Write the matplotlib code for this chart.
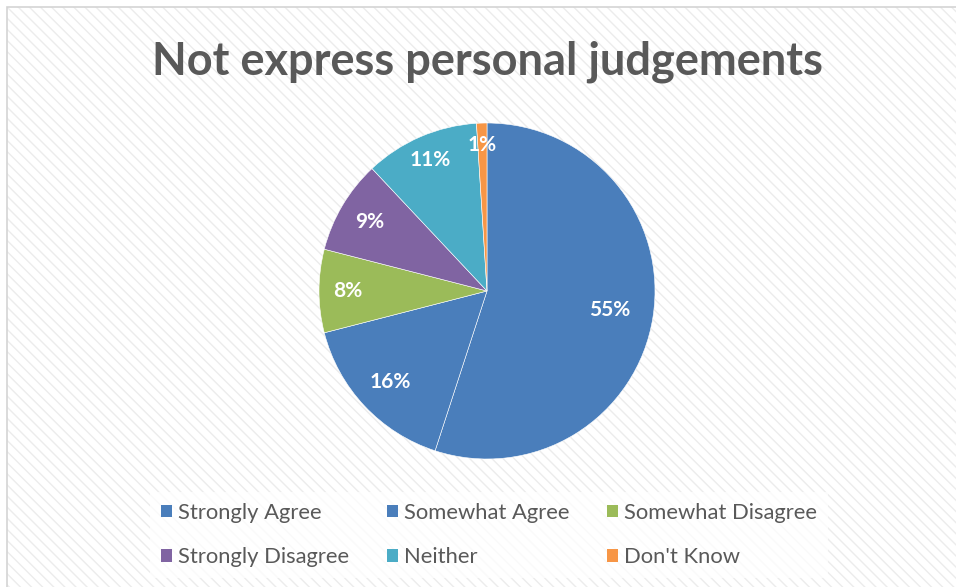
import matplotlib
matplotlib.use('Agg')
import matplotlib.pyplot as plt
import matplotlib.patches as mpatches

# data
labels = ['Strongly Agree', 'Somewhat Agree', 'Somewhat Disagree',
          'Strongly Disagree', 'Neither', "Don't Know"]
shares = [55, 16, 8, 9, 11, 1]
colors = ['#4a7ebb', '#4a7ebb', '#9bbb59', '#8064a2', '#4bacc6', '#f79646']
# label distance from centre (fraction of radius), like Excel's best fit
label_dist = [0.74, 0.79, 0.83, 0.81, 0.85, 0.87]

plt.rcParams['font.family'] = ['Lato', 'DejaVu Sans']
plt.rcParams['hatch.linewidth'] = 1.0

W, H = 956, 587
fig = plt.figure(figsize=(W / 100, H / 100), dpi=100)
fig.patch.set_facecolor('white')

# hatched chart background with light border
bg = mpatches.Rectangle((7 / W, -0.02), 1.05, 1 - 7 / H + 0.02, transform=fig.transFigure,
                        facecolor='white', edgecolor='#ececec', hatch='\\\\\\',
                        linewidth=0, zorder=-2)
fig.patches.append(bg)
border = mpatches.Rectangle((7 / W, -0.02), 1.05, 1 - 7 / H + 0.02, transform=fig.transFigure,
                            facecolor='none', edgecolor='#d4d4d4', linewidth=1.2, zorder=-1)
fig.patches.append(border)

# pie: centre (487, 291) px, radius ~168 px
r = 168
ax = fig.add_axes([(487 - r) / W, (H - 291 - r) / H, 2 * r / W, 2 * r / H])
ax.set_facecolor('none')
wedges, texts, autotexts = ax.pie(
    shares, colors=colors, startangle=90, counterclock=False,
    autopct='%d%%', pctdistance=1.0,
    wedgeprops=dict(edgecolor='white', linewidth=0.4),
    textprops=dict(color='white', fontsize=15, fontweight='bold'))
for t, d in zip(autotexts, label_dist):
    x, y = t.get_position()
    t.set_position((x * d, y * d))
ax.set_xlim(-1, 1)
ax.set_ylim(-1, 1)
ax.set_aspect('equal')

fig.text(487 / W, 1 - 62 / H, 'Not express personal judgements', ha='center', va='center',
         fontsize=32.5, fontweight='bold', color='#595959')

# legend fills column-wise, so reorder to read row-wise like the original
order = [0, 3, 1, 4, 2, 5]
handles = [mpatches.Patch(facecolor=colors[i], edgecolor='none', label=labels[i]) for i in order]
leg = fig.legend(handles=handles, ncol=3, loc='center', bbox_to_anchor=(489 / W, 1 - 535 / H),
                 fontsize=15.8, frameon=True, handlelength=0.5, handleheight=0.5,
                 handletextpad=0.3, columnspacing=1.7, labelspacing=1.12,
                 borderpad=0.5, fancybox=False)
leg.get_frame().set_facecolor('white')
leg.get_frame().set_alpha(0.75)
leg.get_frame().set_edgecolor('none')
for t in leg.get_texts():
    t.set_color('#595959')

fig.savefig('out.png', dpi=100, facecolor=fig.get_facecolor())
